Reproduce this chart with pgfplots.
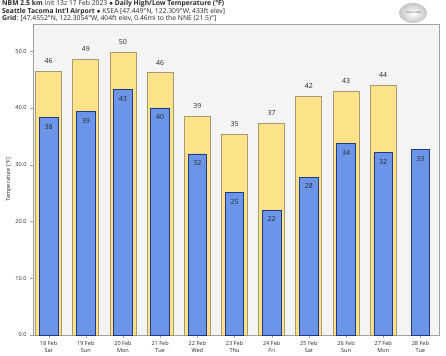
\documentclass[border=0pt]{standalone}
\usepackage{pgfplots}
\pgfplotsset{compat=1.18}
\usepackage{fontspec}
\setmainfont{Open Sans}
\definecolor{hifill}{RGB}{252,227,138}
\definecolor{hiedge}{RGB}{165,155,110}
\definecolor{lofill}{RGB}{107,149,232}
\definecolor{loedge}{RGB}{35,55,130}
\definecolor{bg}{RGB}{244,244,244}
\definecolor{frame}{RGB}{160,160,160}
\definecolor{txt}{RGB}{40,40,40}
\begin{document}
\begin{tikzpicture}
\path[fill=white] (0bp,0bp) rectangle (446bp,354bp);
% titles
\node[anchor=base west,inner sep=0pt,font=\fontsize{6.8}{7}\selectfont,text=txt] at (2bp,348bp)
  {\textbf{NBM 2.5 km} Init 13z 17 Feb 2023 $\bullet$ \textbf{Daily High/Low Temperature (°F)}};
\node[anchor=base west,inner sep=0pt,font=\fontsize{6.8}{7}\selectfont,text=txt] at (2bp,340.5bp)
  {\textbf{Seattle Tacoma Int'l Airport} $\bullet$ KSEA [47.449°N, 122.309°W, 433ft elev]};
\node[anchor=base west,inner sep=0pt,font=\fontsize{6.8}{7}\selectfont,text=txt] at (2bp,333bp)
  {\textbf{Grid}: [47.4552°N, 122.3054°W, 404ft elev, 0.46mi to the NNE (21.5)°]};
% logo
\shade[inner color=white,outer color=gray!45] (413bp,341bp) ellipse (14bp and 10bp);
\node[font=\fontsize{2.5}{3}\selectfont,text=gray!70!black] at (414bp,341bp) {WeatherBELL};
\begin{axis}[
  at={(33bp,19bp)}, anchor=south west,
  scale only axis, width=406bp, height=311bp,
  xmin=-0.42, xmax=10.5, ymin=0, ymax=54.8,
  axis background/.style={fill=bg},
  axis line style={frame},
  ytick={0,10,20,30,40,50},
  yticklabel style={/pgf/number format/fixed,/pgf/number format/fixed zerofill,/pgf/number format/precision=1},
  /pgf/number format/assume math mode=true,
  xtick={0,...,10},
  xticklabels={18 Feb\\Sat,19 Feb\\Sun,20 Feb\\Mon,21 Feb\\Tue,22 Feb\\Wed,23 Feb\\Thu,24 Feb\\Fri,25 Feb\\Sat,26 Feb\\Sun,27 Feb\\Mon,28 Feb\\Tue},
  xticklabel style={align=center,font=\fontsize{5.6}{6.6}\selectfont,text=txt},
  yticklabel style={font=\fontsize{5.6}{6}\selectfont,text=txt},
  tick style={frame},
  tick align=outside, tick pos=left, major tick length=3bp,
  ylabel={Temperature [°F]},
  ylabel shift=-3bp,
  ylabel style={font=\fontsize{5.6}{6}\selectfont,text=txt},
  clip=false,
  ybar, bar shift=0,
]
\addplot[fill=hifill,draw=hiedge,line width=0.8,bar width=0.7,
  nodes near coords, point meta=explicit symbolic,
  every node near coord/.append style={font=\fontsize{7}{8}\selectfont,text=txt,anchor=south,yshift=4}]
  coordinates {(0,46.4)[46] (1,48.5)[49] (2,49.8)[50] (3,46.2)[46] (4,38.5)[39] (5,35.3)[35] (6,37.3)[37] (7,42.1)[42] (8,43.0)[43] (9,44.0)[44]};
\addplot[fill=lofill,draw=loedge,line width=0.8,bar width=0.5,
  nodes near coords, point meta=explicit symbolic,
  every node near coord/.append style={font=\fontsize{7}{8}\selectfont,text=txt,anchor=north,yshift=-3}]
  coordinates {(0,38.3)[38] (1,39.4)[39] (2,43.3)[43] (3,40.0)[40] (4,31.9)[32] (5,25.1)[25] (6,22.0)[22] (7,27.8)[28] (8,33.7)[34] (9,32.1)[32] (10,32.7)[33]};
\end{axis}
\end{tikzpicture}
\end{document}
